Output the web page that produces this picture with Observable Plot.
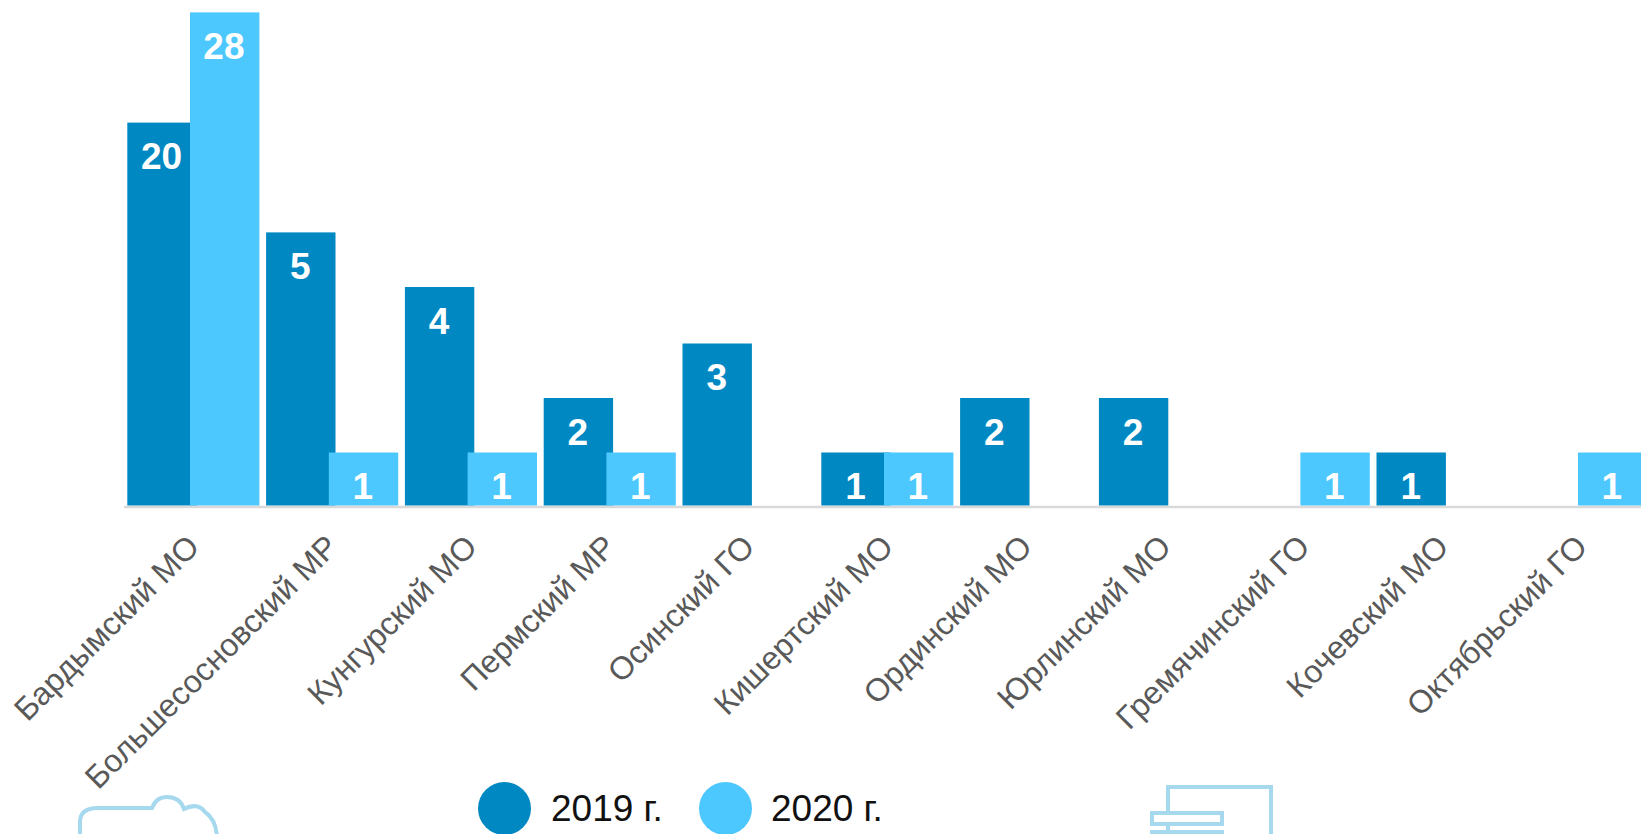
<!DOCTYPE html>
<html lang="ru">
<head>
<meta charset="utf-8">
<script src="https://cdn.jsdelivr.net/npm/d3@7"></script>
<script src="https://cdn.jsdelivr.net/npm/@observablehq/plot@0.6"></script>
<style>
html,body{margin:0;padding:0;background:#fff;overflow:hidden;width:1641px;height:834px}
#chart svg{display:block;overflow:hidden;max-width:none}
#legend{position:relative;height:50px;margin-top:-18px;font-family:"Liberation Sans",Arial,sans-serif;font-size:37px;color:#111}
#legend .sw{position:absolute;top:0;width:53px;height:53px;border-radius:50%}
#legend .lb{position:absolute;top:3px;line-height:48px}
#legend svg{position:absolute;left:0;top:0;overflow:visible}
</style>
</head>
<body>
<div id="chart"></div>
<div id="legend">
  <svg width="1641" height="52" viewBox="0 782 1641 52" fill="none" stroke="#a6d8ee" stroke-width="4">
    <path d="M80 850 V822 Q80 808 98 808 H152 Q156 797 167 797 Q180 797 184 809 Q198 802 205 812 Q217 820 217 840"/>
    <path d="M1168 812 V787 H1271 V850"/>
    <rect x="1152" y="813" width="70" height="11"/>
    <path d="M1168 824 V831"/>
    <rect x="1152" y="832" width="70" height="14"/>
  </svg>
  <span class="sw" style="left:478px;background:#0088c2"></span>
  <span class="lb" style="left:551px">2019 г.</span>
  <span class="sw" style="left:699px;background:#4dc8ff"></span>
  <span class="lb" style="left:771px">2020 г.</span>
</div>
<script>
const categories = ["Бардымский МО","Большесосновский МР","Кунгурский МО","Пермский МР","Осинский ГО","Кишертский МО","Ординский МО","Юрлинский МО","Гремячинский ГО","Кочевский МО","Октябрьский ГО"];
const values2019 = [20,5,4,2,3,1,2,2,null,1,null];
const values2020 = [28,1,1,1,null,1,null,null,1,null,1];
const color2019 = "#0088c2";
const color2020 = "#4dc8ff";

const rows = vals => categories.map((c,i)=>({cat:c,v:vals[i]})).filter(d=>d.v!=null);
const r19 = rows(values2019), r20 = rows(values2020);
const labelStyle = {text:d=>String(d.v),fill:"white",fontSize:37,fontWeight:"bold",dy:34.5};

const plot = Plot.plot({
  width:1641,height:800,
  marginTop:0,marginLeft:124,marginRight:0,marginBottom:293,
  style:{fontFamily:'"Liberation Sans",Arial,sans-serif',background:"#fff"},
  x:{type:"band",domain:categories,range:[124,1650.8],padding:0,round:false,label:null},
  y:{type:"linear",domain:[0,1,2,3,4,5,20,28],range:[505.6,452.5,398,343.5,287,232.4,122.6,12.4],axis:null},
  marks:[
    Plot.barY(r19,{x:"cat",y:"v",fill:color2019,insetLeft:3.3,insetRight:66.1}),
    Plot.barY(r20,{x:"cat",y:"v",fill:color2020,insetLeft:66,insetRight:3.4}),
    Plot.ruleY([0],{stroke:"#d9d9d9",strokeWidth:2.5,dy:1}),
    Plot.text(r19,{x:"cat",y:"v",dx:-32.4,...labelStyle}),
    Plot.text(r20,{x:"cat",y:"v",dx:30,...labelStyle}),
    Plot.axisX({anchor:"bottom",tickSize:0,tickPadding:33,tickRotate:-45,fontSize:32,fill:"#595959",label:null,lineAnchor:"middle",dx:0,dy:1})
  ]
});
document.getElementById("chart").append(plot);
</script>
</body>
</html>
